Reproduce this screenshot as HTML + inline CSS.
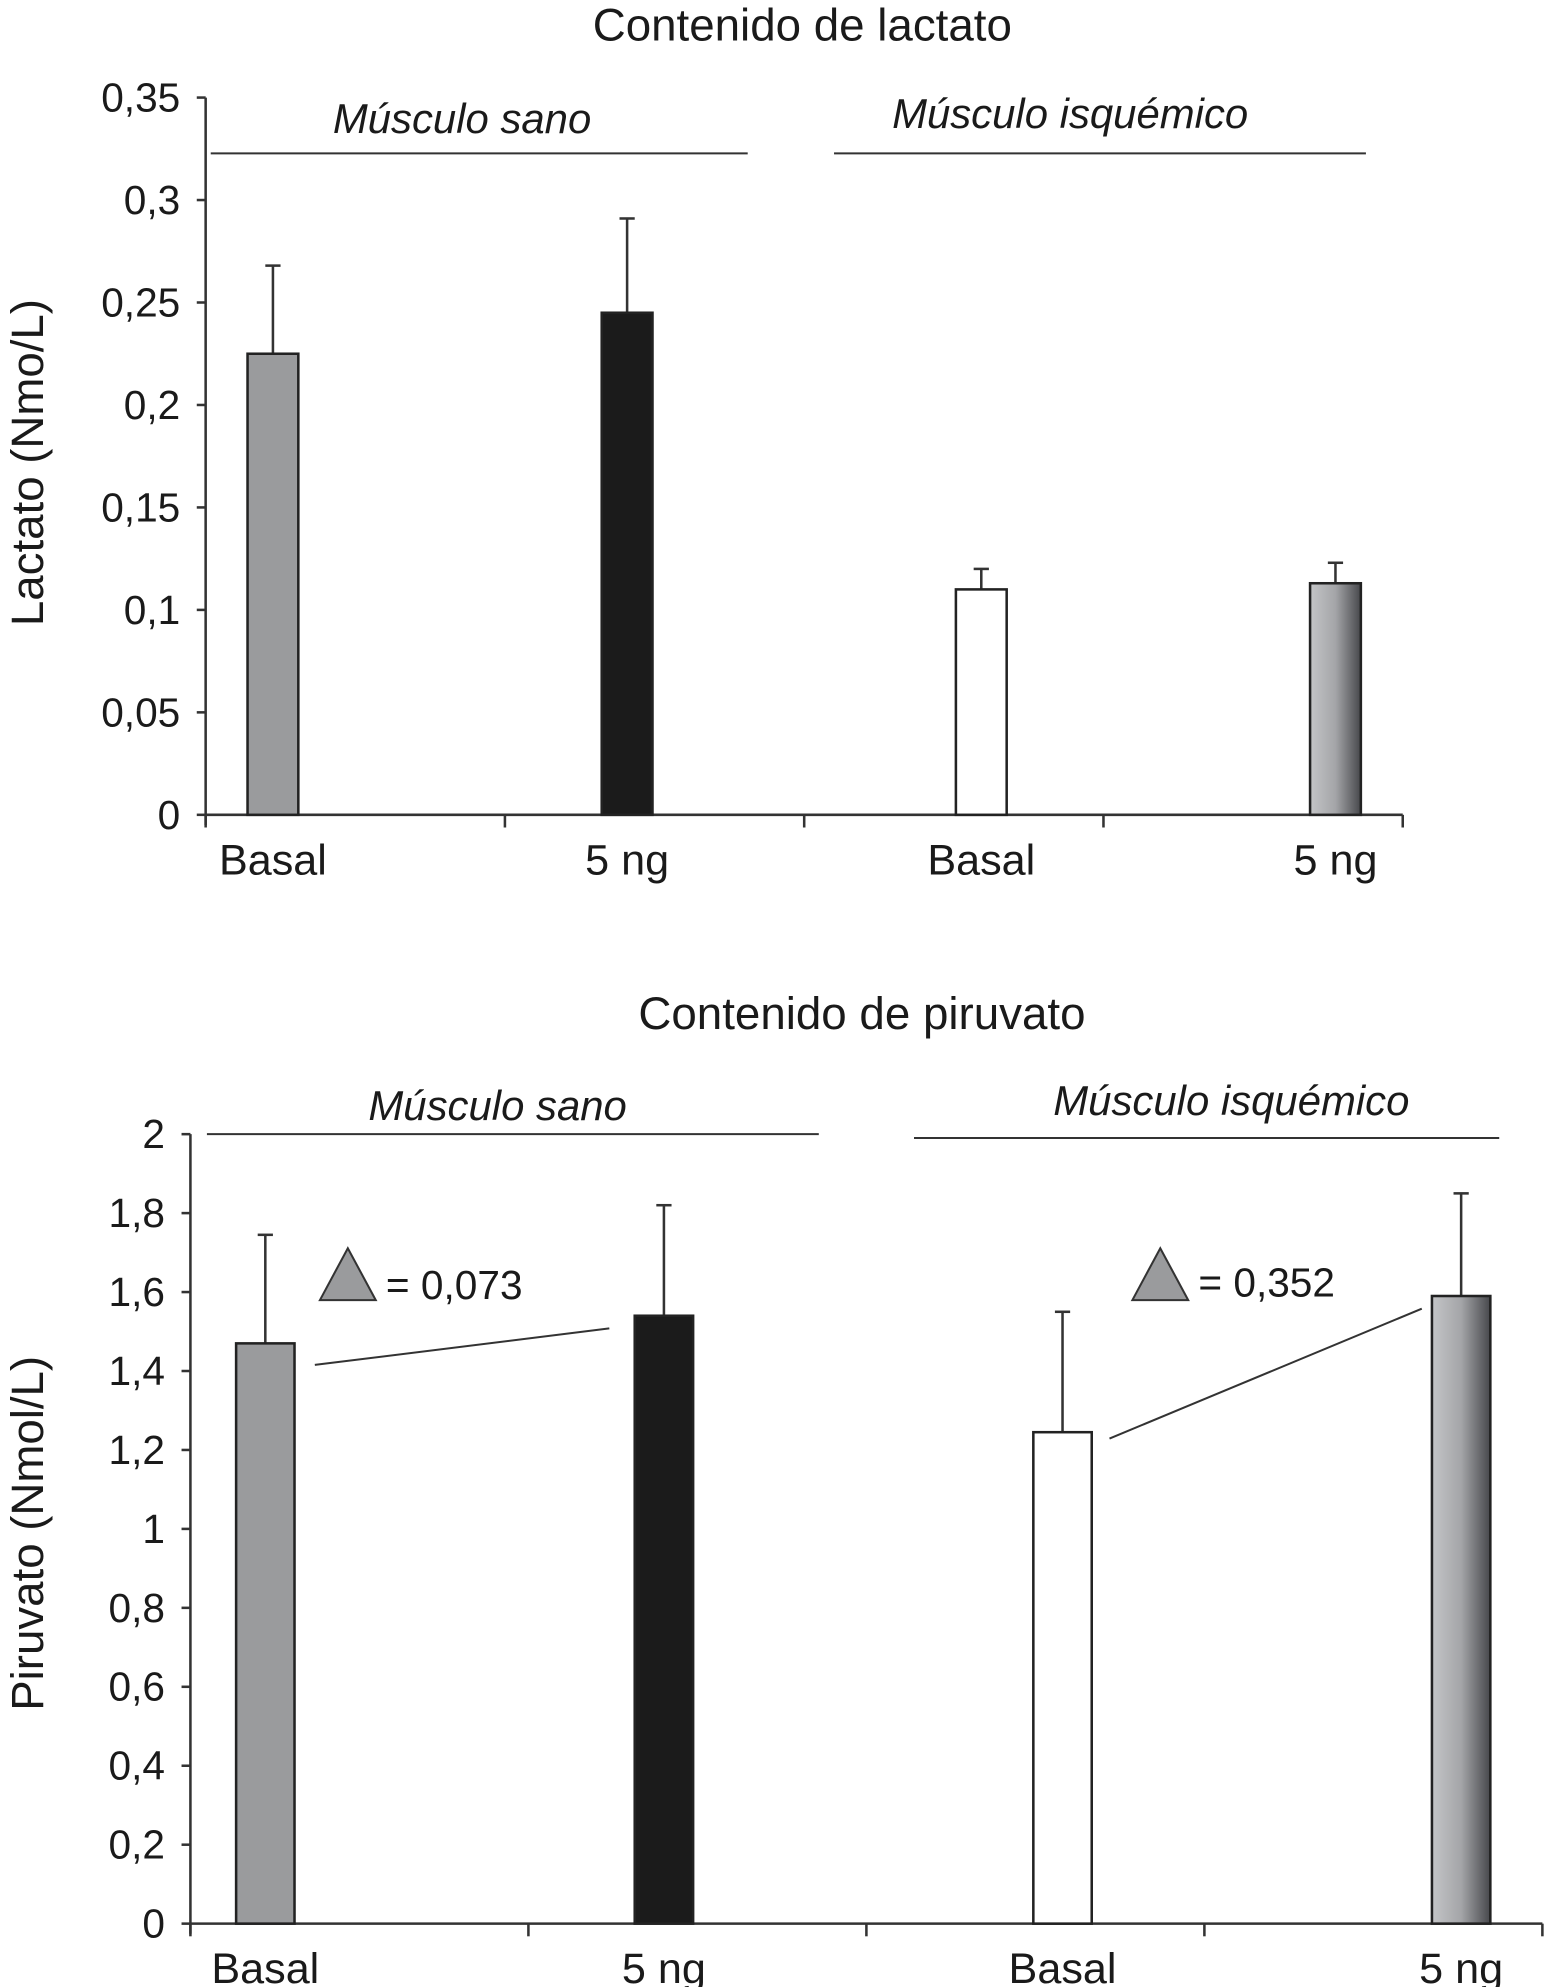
<!DOCTYPE html>
<html><head><meta charset="utf-8"><style>
html,body{margin:0;padding:0;background:#fff}
svg{display:block}
text{font-family:"Liberation Sans Narrow","Liberation Sans",sans-serif;fill:#1a1a1a}
.ax{font-family:"Liberation Sans",sans-serif}
</style></head><body>
<svg id="chart" width="1550" height="1987" viewBox="0 0 1221 1568" preserveAspectRatio="none" xmlns="http://www.w3.org/2000/svg">
<defs>
<linearGradient id="g1" x1="0" x2="1" y1="0" y2="0"><stop offset="0" stop-color="#c4c5c7"/><stop offset="0.5" stop-color="#a4a5a8"/><stop offset="1" stop-color="#47484c"/></linearGradient>
</defs>
<g id="top"></g>
<g id="bot"></g>
</svg>
<script>
const categories = ["Basal","5 ng","Basal","5 ng"];
const lactValues = [0.225,0.245,0.11,0.113];
const lactErrors = [0.268,0.291,0.12,0.123];
const lactTicks = [0,0.05,0.1,0.15,0.2,0.25,0.3,0.35];
const lactTickLabels = ["0","0,05","0,1","0,15","0,2","0,25","0,3","0,35"];
const piruValues = [1.47,1.54,1.245,1.59];
const piruErrors = [1.745,1.82,1.55,1.85];
const piruTicks = [0,0.2,0.4,0.6,0.8,1,1.2,1.4,1.6,1.8,2];
const piruTickLabels = ["0","0,2","0,4","0,6","0,8","1","1,2","1,4","1,6","1,8","2"];
const deltaLabels = ["= 0,073","= 0,352"];
const fills = ["#9a9b9d","#1b1b1b","#ffffff","url(#g1)"];
const NS="http://www.w3.org/2000/svg";
function mk(p,tag,attrs,txt){const e=document.createElementNS(NS,tag);for(const k in attrs)e.setAttribute(k,attrs[k]);if(txt!==undefined)e.textContent=txt;p.appendChild(e);return e;}

function drawChart(g,cfg){
  const y=v=>cfg.y0-(v/cfg.max)*(cfg.y0-cfg.yTop);
  const band=(cfg.xR-cfg.xL)/categories.length;
  const xc=i=>cfg.first+cfg.step*i;
  let t=mk(g,'text',{x:cfg.titleX,y:cfg.titleY,'text-anchor':'middle','font-size':36},cfg.title);
  
  
  t=mk(g,'text',{class:'ax',x:0,y:0,'text-anchor':'middle','font-size':36,transform:`translate(${cfg.ytX},${cfg.ytY}) rotate(-90)`},cfg.yTitle);
  
  
  let a=mk(g,'line',{x1:cfg.xL,x2:cfg.xL,y1:cfg.yTop,y2:cfg.y0+8,stroke:'#333','stroke-width':2});
  
  
  cfg.ticks.forEach((v,i)=>{
    mk(g,'line',{x1:cfg.xL-7,x2:cfg.xL,y1:y(v),y2:y(v),stroke:'#333','stroke-width':2});
    const l=mk(g,'text',{x:cfg.xL-20,y:y(v)+11,'text-anchor':'end','font-size':32},cfg.tickLabels[i]);
    
    
  });
  a=mk(g,'line',{x1:cfg.xL,x2:cfg.xR,y1:cfg.y0,y2:cfg.y0,stroke:'#333','stroke-width':2});
  
  
  for(let i=0;i<=categories.length;i++)mk(g,'line',{x1:cfg.xL+band*i,x2:cfg.xL+band*i,y1:cfg.y0,y2:cfg.y0+10,stroke:'#333','stroke-width':2});
  cfg.values.forEach((v,i)=>{
    const cx=xc(i),w=cfg.barW;
    const eb=mk(g,'line',{x1:cx,x2:cx,y1:y(cfg.errors[i]),y2:y(v),stroke:'#333','stroke-width':2});
    
    
    mk(g,'line',{x1:cx-6,x2:cx+6,y1:y(cfg.errors[i]),y2:y(cfg.errors[i]),stroke:'#333','stroke-width':2});
    const r=mk(g,'rect',{x:cx-w/2,y:y(v),width:w,height:cfg.y0-y(v),fill:fills[i],stroke:'#222','stroke-width':2});
    
    
    const c=mk(g,'text',{x:cx,y:cfg.y0+47,'text-anchor':'middle','font-size':34},categories[i]);
    
    
  });
  cfg.groups.forEach(gr=>{
    const l=mk(g,'line',{x1:gr.x1,x2:gr.x2,y1:gr.ly,y2:gr.ly,stroke:'#333','stroke-width':1.6});
    
    
    const tx=mk(g,'text',{x:gr.tx,y:gr.ty,'text-anchor':'middle','font-size':33,'font-style':'italic'},gr.label);
    
    
  });
  return {y,xc};
}
drawChart(document.getElementById('top'),{key:'lactate',title:'Contenido de lactato',titleX:632,titleY:32,yTitle:'Lactato (Nmo/L)',ytX:34,ytY:365,
  xL:162,xR:1105,y0:643,yTop:77,max:0.35,ticks:lactTicks,tickLabels:lactTickLabels,values:lactValues,errors:lactErrors,barW:40,first:215,step:279,
  groups:[{x1:166,x2:589,ly:121,tx:364,ty:105,label:'Músculo sano'},{x1:657,x2:1076,ly:121,tx:843,ty:101,label:'Músculo isquémico'}]});
const P=drawChart(document.getElementById('bot'),{key:'pyruvate',title:'Contenido de piruvato',titleX:679,titleY:812,yTitle:'Piruvato (Nmol/L)',ytX:34,ytY:1210,
  xL:150,xR:1215,y0:1518,yTop:895,max:2,ticks:piruTicks,tickLabels:piruTickLabels,values:piruValues,errors:piruErrors,barW:46,first:209,step:314,
  groups:[{x1:163,x2:645,ly:895,tx:392,ty:884,label:'Músculo sano'},{x1:720,x2:1181,ly:898,tx:970,ty:880,label:'Músculo isquémico'}]});
const bot=document.getElementById('bot');
const conn=[{a:0,b:1,dx1:16,dy1:17,dx2:-20,dy2:10},{a:2,b:3,dx1:14,dy1:5,dx2:-8,dy2:10}];
conn.forEach((c,k)=>{
  const x1=P.xc(c.a)+23+c.dx1,x2=P.xc(c.b)-23+c.dx2;
  const y1=P.y(piruValues[c.a])+c.dy1,y2=P.y(piruValues[c.b])+c.dy2;
  const ln=mk(bot,'line',{x1:x1,y1:y1,x2:x2,y2:y2,stroke:'#333','stroke-width':1.6});
  
  
  const tx=k===0?252:892;
  const tri=mk(bot,'polygon',{points:`${tx},1026 ${tx+22},985 ${tx+44},1026`,fill:'#9a9b9d',stroke:'#333','stroke-width':1.6});
  
  
  const dl=mk(bot,'text',{x:tx+52,y:k===0?1025:1023,'font-size':32},deltaLabels[k]);
  
  
});
</script>
</body></html>
